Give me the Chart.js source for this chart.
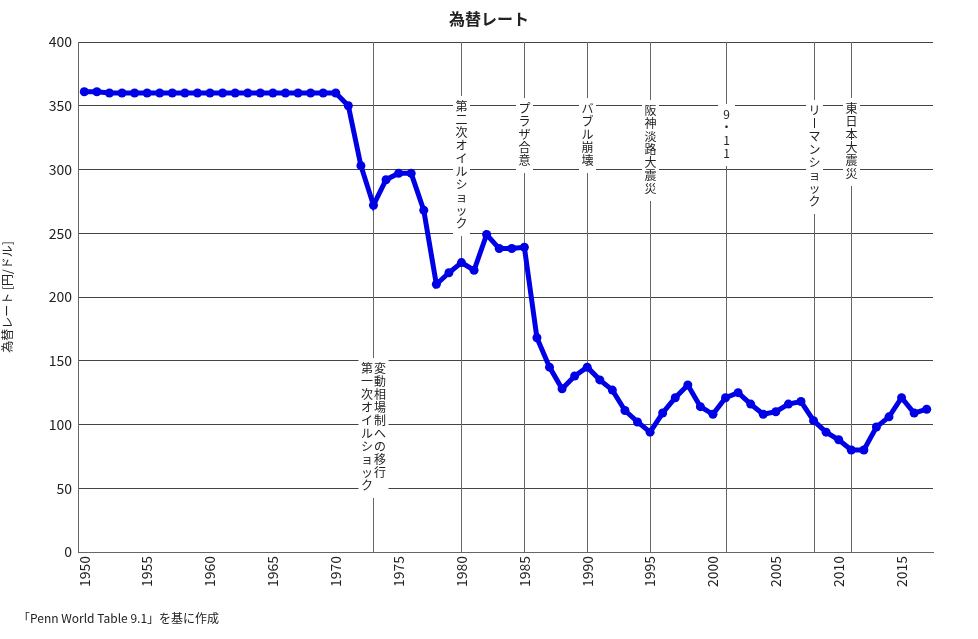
<!DOCTYPE html>
<html>
<head>
<meta charset="utf-8">
<script src="https://cdn.jsdelivr.net/npm/chart.js@4"></script>
<style>
  body { margin: 0; background: #fff; }
</style>
</head>
<body>
<canvas id="fxChart" width="978" height="639"></canvas>
<script>
// years 1950 - 2017
const years = [];
for (let y = 1950; y <= 2017; y++) years.push(String(y));

// yen per dollar
const rates = [
  361, 361, 360, 360, 360, 360, 360, 360, 360, 360,
  360, 360, 360, 360, 360, 360, 360, 360, 360, 360,
  360, 350, 303, 272, 292, 297, 297, 268, 210, 219,
  227, 221, 249, 238, 238, 239, 168, 145, 128, 138,
  145, 135, 127, 111, 102, 94, 109, 121, 131, 114,
  108, 121, 125, 116, 108, 110, 116, 118, 103, 94,
  88, 80, 80, 98, 106, 121, 109, 112
];

// events: year, label columns (right to left), top of text
const eventYears = ['1973', '1980', '1985', '1990', '1995', '2001', '2008', '2011'];
const eventLabels = [
  ['変動相場制への移行', '第一次オイルショック'],
  ['第二次オイルショック'],
  ['プラザ合意'],
  ['バブル崩壊'],
  ['阪神淡路大震災'],
  ['9・11'],
  ['リーマンショック'],
  ['東日本大震災']
];
const eventTop = [362, 100, 102, 102, 104, 108, 104, 102];

const FONT = '"Noto Sans CJK JP", sans-serif';

const eventPlugin = {
  id: 'events',
  beforeDatasetsDraw(chart) {
    const ctx = chart.ctx;
    const x = chart.scales.x;
    const area = chart.chartArea;
    ctx.save();
    eventYears.forEach(function (yr, i) {
      const px = Math.round(x.getPixelForValue(years.indexOf(yr))) + 0.5;
      ctx.strokeStyle = '#666';
      ctx.lineWidth = 1;
      ctx.beginPath();
      ctx.moveTo(px, area.top);
      ctx.lineTo(px, area.bottom);
      ctx.stroke();

      const cols = eventLabels[i];
      const step = 13;
      ctx.font = '12px ' + FONT;
      ctx.textAlign = 'center';
      ctx.textBaseline = 'middle';
      const colW = 13;
      const maxLen = Math.max.apply(null, cols.map(c => [...c].length));
      const totalW = cols.length * colW;
      ctx.fillStyle = '#fff';
      ctx.fillRect(px - totalW / 2 - 2, eventTop[i] - 4, totalW + 4, maxLen * step + 10);
      cols.forEach(function (txt, c) {
        const cx = px + totalW / 2 - colW / 2 - c * colW;
        [...txt].forEach(function (ch, k) {
          const cy = eventTop[i] + k * step + 6;
          ctx.fillStyle = '#222';
          if (ch === 'ー') {
            ctx.fillRect(cx - 0.5, cy - 5, 1, 10);
          } else {
            ctx.fillText(ch, cx, cy);
          }
        });
      });
    });
    ctx.restore();
  },
  afterDraw(chart) {
    const ctx = chart.ctx;
    ctx.save();
    ctx.fillStyle = '#222';
    ctx.font = 'bold 16px ' + FONT;
    ctx.textAlign = 'center';
    ctx.textBaseline = 'middle';
    ctx.fillText('為替レート', 489, 19);
    ctx.font = '12px ' + FONT;
    ctx.textAlign = 'left';
    ctx.fillText('「Penn World Table 9.1」を基に作成', 18, 618);
    ctx.restore();
  }
};

new Chart(document.getElementById('fxChart'), {
  type: 'line',
  data: {
    labels: years,
    datasets: [{
      label: '為替レート',
      data: rates,
      borderColor: '#0000e6',
      backgroundColor: '#0000e6',
      borderWidth: 5,
      pointRadius: 4.5,
      pointBorderWidth: 0,
      tension: 0
    }]
  },
  options: {
    responsive: false,
    animation: false,
    devicePixelRatio: 1,
    layout: { padding: { top: 42, right: 45, left: 0, bottom: 0 } },
    plugins: { legend: { display: false }, tooltip: { enabled: false } },
    scales: {
      x: {
        offset: true,
        afterFit(s) { s.height = 87; },
        grid: { display: false, drawTicks: false },
        border: { color: '#666' },
        ticks: {
          autoSkip: false,
          minRotation: 90,
          maxRotation: 90,
          color: '#222',
          padding: 4,
          font: { size: 14, family: FONT },
          callback(v) { const y = Number(years[v]); return y % 5 === 0 ? String(y) : null; }
        }
      },
      y: {
        min: 0,
        max: 400,
        afterFit(s) { s.width = 78; },
        grid: { color: '#444', borderDash: [1, 2], drawTicks: false },
        border: { color: '#666' },
        ticks: { stepSize: 50, color: '#222', padding: 6, font: { size: 14, family: FONT } },
        title: { display: true, text: '為替レート [円/ドル]', color: '#222', font: { size: 12, family: FONT }, padding: 0 }
      }
    }
  },
  plugins: [eventPlugin]
});
</script>
</body>
</html>
